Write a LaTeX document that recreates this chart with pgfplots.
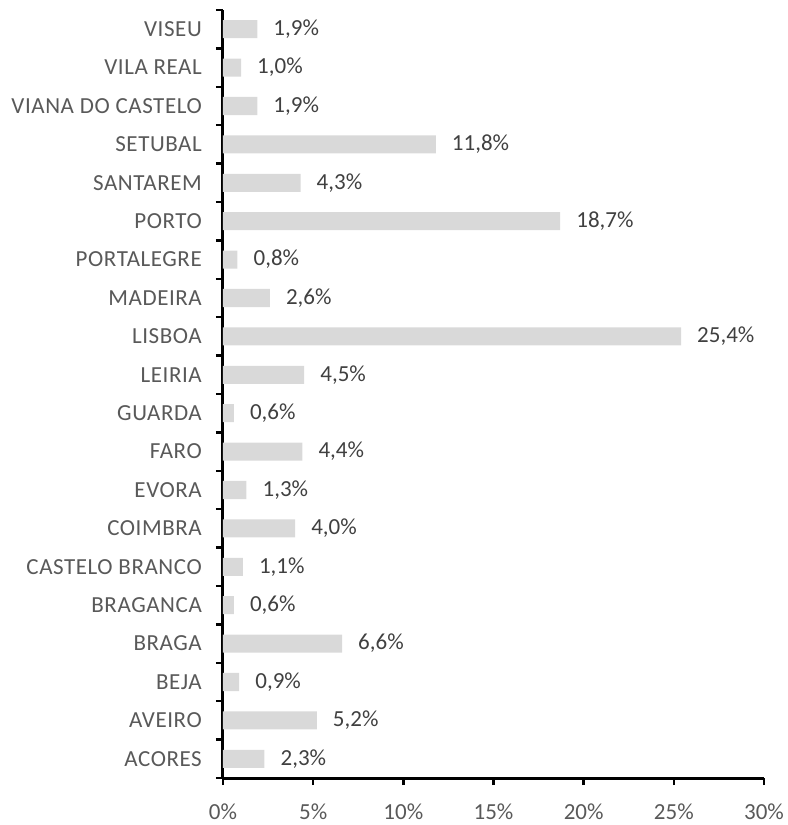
\documentclass[border=0pt]{standalone}
\usepackage{pgfplots}
\pgfplotsset{compat=1.18}
\usepackage{pgfplotstable}
\usepackage{fontspec}
\setmainfont{Carlito}
\newfontfamily\catfont[LetterSpace=2.5]{Carlito}
\definecolor{barc}{HTML}{D9D9D9}
\definecolor{txt}{HTML}{595959}
\definecolor{val}{HTML}{404040}
\pgfplotstableread{
y v
0 2.3
1 5.2
2 0.9
3 6.6
4 0.6
5 1.1
6 4.0
7 1.3
8 4.4
9 0.6
10 4.5
11 25.4
12 2.6
13 0.8
14 18.7
15 4.3
16 11.8
17 1.9
18 1.0
19 1.9
}\datatable
\begin{document}
\begin{tikzpicture}
\begin{axis}[
  scale only axis, width=541bp, height=768bp,
  xbar, bar width=0.47,
  xmin=0, xmax=30, ymin=-0.5, ymax=19.5,
  axis x line*=bottom, axis y line*=left,
  separate axis lines,
  every outer x axis line/.append style={black, line width=3bp},
  every outer y axis line/.append style={black, line width=3bp},
  major tick style={black, line width=2.5bp},
  tick align=outside,
  major tick length=7bp,
  xtick={0,5,10,15,20,25,30},
  xticklabel={\pgfmathprintnumber{\tick}\%},
  /pgf/number format/assume math mode=true,
  ytick={-0.5,0.5,...,19.5},
  y tick label as interval,
  yticklabels={ACORES,AVEIRO,BEJA,BRAGA,BRAGANCA,CASTELO BRANCO,COIMBRA,EVORA,FARO,GUARDA,LEIRIA,LISBOA,MADEIRA,PORTALEGRE,PORTO,SANTAREM,SETUBAL,VIANA DO CASTELO,VILA REAL,VISEU},
  xticklabel style={font=\fontsize{23bp}{27bp}\selectfont, text=txt, yshift=-15bp},
  yticklabel style={font=\catfont\fontsize{23bp}{27bp}\selectfont, text=txt, anchor=east, inner sep=0pt, xshift=-14bp},
  point meta=x,
  nodes near coords={\pgfmathprintnumber[fixed,fixed zerofill,precision=1,use comma]{\pgfplotspointmeta}\%},
  every node near coord/.append style={font=\fontsize{23bp}{27bp}\selectfont, text=val, anchor=west, inner sep=0pt, xshift=16bp},
  clip=false,
]
\addplot[fill=barc, draw=none] table[x=v, y=y] {\datatable};
\end{axis}
\pgfresetboundingbox
\path[use as bounding box] ([shift={(-223bp,-47bp)}]current axis.south west) rectangle ([shift={(24bp,10bp)}]current axis.north east);
\end{tikzpicture}
\end{document}
